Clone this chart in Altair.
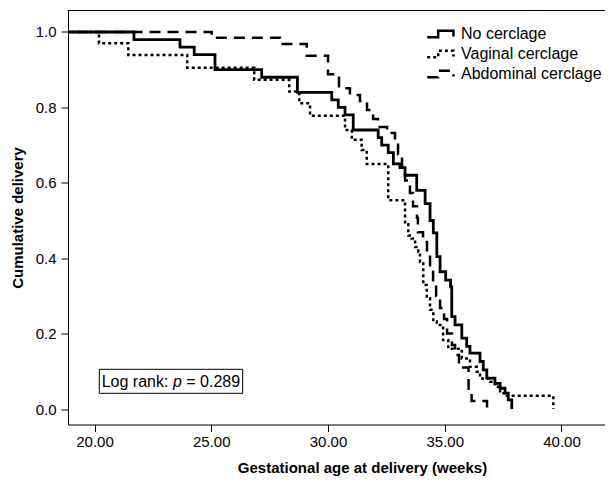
import altair as alt
import pandas as pd

# ---------------- data ----------------
groups = ["No cerclage", "Vaginal cerclage", "Abdominal cerclage"]

no_t = [0, 21.69, 23.66, 24.27, 25.16, 27.16, 28.69, 30.16, 30.44, 30.73, 31.08,
        32.15, 32.30, 32.58, 32.80, 33.08, 33.30, 33.80, 34.16, 34.37, 34.51, 34.66,
        34.80, 35.04, 35.25, 35.30, 35.44, 35.73, 35.94, 36.08, 36.51, 36.65, 36.80,
        37.15, 37.37, 37.58, 37.72, 37.87]
no_s = [1.0, 0.98, 0.96, 0.94, 0.90, 0.88, 0.84, 0.82, 0.80, 0.78, 0.74,
        0.72, 0.70, 0.68, 0.65, 0.64, 0.62, 0.58, 0.545, 0.50, 0.467, 0.404,
        0.364, 0.342, 0.324, 0.245, 0.223, 0.188, 0.166, 0.148, 0.126, 0.104, 0.082,
        0.068, 0.055, 0.042, 0.024, 0.0]

vag_t = [0, 20.19, 21.45, 23.97, 26.84, 28.34, 28.77, 29.23, 30.73, 31.02, 31.44,
         31.66, 32.58, 33.30, 33.44, 33.58, 33.73, 33.87, 33.94, 34.08, 34.23, 34.37,
         34.51, 34.66, 34.93, 35.15, 35.73, 36.08, 36.37, 36.51, 36.94, 37.15, 37.37,
         37.58, 39.65]
vag_s = [1.0, 0.97, 0.939, 0.905, 0.873, 0.842, 0.811, 0.778, 0.74, 0.714, 0.687,
         0.65, 0.554, 0.49, 0.46, 0.452, 0.43, 0.417, 0.39, 0.329, 0.294, 0.263,
         0.232, 0.223, 0.183, 0.16, 0.134, 0.112, 0.099, 0.081, 0.072, 0.059, 0.042,
         0.035, 0.0]

abd_t = [0, 25.02, 27.94, 29.09, 30.0, 30.47, 30.94, 31.37, 31.67, 31.93, 32.14,
         32.53, 32.87, 33.0, 33.17, 33.3, 33.51, 33.64, 33.81, 33.85, 34.07, 34.24,
         34.37, 34.5, 34.63, 34.8, 34.97, 35.1, 35.31, 35.44, 35.61, 36.02, 36.15, 36.81]
abd_s = [1.0, 0.985, 0.968, 0.937, 0.888, 0.851, 0.833, 0.817, 0.793, 0.769, 0.748,
         0.732, 0.706, 0.676, 0.64, 0.606, 0.573, 0.538, 0.507, 0.469, 0.443, 0.408,
         0.37, 0.337, 0.3, 0.268, 0.239, 0.2, 0.17, 0.143, 0.11, 0.047, 0.021, 0.0]

x_ticks = [20, 25, 30, 35, 40]
y_ticks = [0.0, 0.2, 0.4, 0.6, 0.8, 1.0]
note_parts = ["Log rank:", "p", "= 0.289"]

# ---------------- table ----------------
rows = []
for g, ts, ss in zip(groups, [no_t, vag_t, abd_t], [no_s, vag_s, abd_s]):
    for i, (t, s) in enumerate(zip(ts, ss)):
        rows.append({"group": g, "weeks": t, "surv": s, "i": i})
df = pd.DataFrame(rows)

W, H = 537, 414
FONT = "Liberation Sans"

dash_scale = alt.Scale(domain=groups, range=[[1, 0], [3, 3], [11, 7]])
widths = {"No cerclage": 2.8, "Vaginal cerclage": 2.5, "Abdominal cerclage": 2.5}
glyph = "M-2.9,0.45L-1.33,0.45L-1.33,-0.45L0.85,-0.45L0.85,0.35"

x_enc = alt.X(
    "weeks:Q",
    scale=alt.Scale(domain=[18.865, 41.863], nice=False, zero=False),
    axis=alt.Axis(values=x_ticks, format=".2f", title="Gestational age at delivery (weeks)",
                  grid=False, tickSize=7, labelPadding=3,
                  titleX=294, titleY=48, titleAlign="center", titleBaseline="alphabetic"),
)
y_enc = alt.Y(
    "surv:Q",
    scale=alt.Scale(domain=[-0.0411, 1.057], nice=False, zero=False),
    axis=alt.Axis(values=y_ticks, format=".1f", title="Cumulative delivery",
                  grid=False, tickSize=7, labelPadding=5,
                  titleX=-51, titleY=207, titleAlign="center", titleBaseline="middle"),
)

legend = alt.Legend(
    title=None, orient="none", legendX=371, legendY=15,
    symbolType=glyph, symbolSize=196, symbolStrokeWidth=2.5,
    symbolStrokeColor="black", symbolFillColor="transparent",
    labelFont=FONT, labelFontSize=16, labelColor="black",
    rowPadding=3, labelOffset=5, padding=0,
)

layers = []
for g in reversed(groups):
    layers.append(
        alt.Chart(df).transform_filter(alt.datum.group == g)
        .mark_line(interpolate="step-after", strokeWidth=widths[g], color="black", clip=True)
        .encode(
            x=x_enc, y=y_enc,
            strokeDash=alt.StrokeDash("group:N", scale=dash_scale, legend=legend),
            order="i:Q",
        )
    )

one = alt.Chart(pd.DataFrame({"a": [0]}))
top_rule = one.mark_rule(color="black", strokeWidth=1).encode(
    x=alt.value(0), x2=alt.value(W), y=alt.value(0))
box = one.mark_rect(fill="white", stroke="black", strokeWidth=1).encode(
    x=alt.value(31.3), x2=alt.value(174.7), y=alt.value(358.8), y2=alt.value(382.8))
t1 = one.mark_text(font=FONT, fontSize=16, align="left", baseline="alphabetic", color="black",
                   text=note_parts[0]).encode(x=alt.value(33.7), y=alt.value(376.2))
t2 = one.mark_text(font=FONT, fontSize=16, fontStyle="italic", align="left", baseline="alphabetic",
                   color="black", text=note_parts[1]).encode(x=alt.value(104.9), y=alt.value(376.2))
t3 = one.mark_text(font=FONT, fontSize=16, align="left", baseline="alphabetic", color="black",
                   text=note_parts[2]).encode(x=alt.value(118.3), y=alt.value(376.2))

chart = alt.layer(*layers, top_rule, box, t1, t2, t3).properties(
    width=W, height=H,
    padding={"left": 60, "top": 2.5, "right": 0, "bottom": 55},
    autosize=alt.AutoSizeParams(type="none"),
).configure_view(stroke=None).configure_axis(
    domainColor="black", tickColor="black", labelColor="black", titleColor="black",
    labelFont=FONT, titleFont=FONT, labelFontSize=15, titleFontSize=15,
    titleFontWeight="bold", domainWidth=1, tickWidth=1,
)

chart.save("out.html", embed_options={"renderer": "svg", "actions": False})
